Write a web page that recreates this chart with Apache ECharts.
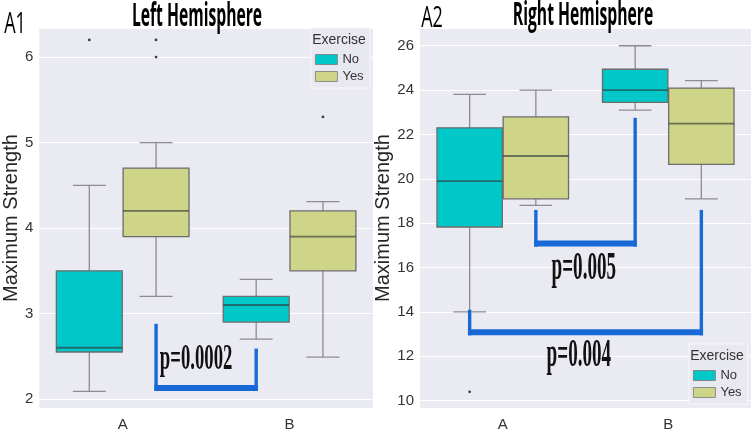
<!DOCTYPE html>
<html>
<head>
<meta charset="utf-8">
<script src="https://cdn.jsdelivr.net/npm/echarts@6/dist/echarts.min.js"></script>
<style>
html, body { margin: 0; padding: 0; background: #fff; }
#chart { width: 754px; height: 432px; }
</style>
</head>
<body>
<div id="chart"></div>
<script>
const categories = ['A', 'B'];
const hues = ['No', 'Yes'];

// [lower whisker, Q1, median, Q3, upper whisker] per category
const leftNo = [[2.09, 2.55, 2.60, 3.50, 4.50], [2.70, 2.90, 3.10, 3.20, 3.40]];
const leftYes = [[3.20, 3.90, 4.20, 4.70, 5.00], [2.49, 3.50, 3.90, 4.20, 4.31]];
const rightNo = [[14.0, 17.83, 19.90, 22.30, 23.81], [23.10, 23.45, 24.00, 24.94, 26.00]];
const rightYes = [[18.8, 19.10, 21.03, 22.79, 24.00], [19.10, 20.65, 22.49, 24.09, 24.43]];

// outliers: [category index, value]
const leftNoOut = [[0, 6.2]];
const leftYesOut = [[0, 6.2], [0, 6.0], [1, 5.3]];
const rightNoOut = [[0, 10.4]];
const rightYesOut = [];

// brackets: [cat1, hue1, cat2, hue2, left top, bottom, right top]
const leftBrackets = [[0, 1, 1, 0, 2.88, 2.13, 2.59]];
const rightBrackets = [[0, 1, 1, 0, 18.6, 17.08, 22.75], [0, 0, 1, 1, 14.1, 13.08, 18.6]];

// p-value labels: [position from A in categories, value, text]
const leftP = [[0.44, 2.46, 'p=0.0002']];
const rightP = [[0.49, 15.95, 'p=0.005'], [0.46, 12.0, 'p=0.004']];

const COLORS = { No: '#00c8c8', Yes: '#ced488' };
const SANS = '"Liberation Sans", Arial, sans-serif';
const SERIF = '"Liberation Serif", "Times New Roman", serif';
const BLUE = '#1769d6';

function hueOffset(h) { return h ? 0.2 : -0.2; }

function boxRender(hue) {
  return function (params, api) {
    const cat = api.value(0);
    const band = api.size([1, 0])[0];
    const cx = api.coord([cat, 0])[0] + hueOffset(hue) * band;
    const w = band * 0.395;
    const cap = w / 4;
    const y = (i) => api.coord([cat, api.value(i)])[1];
    const lo = y(1), q1 = y(2), md = y(3), q3 = y(4), hi = y(5);
    const ws = { stroke: '#8c8c8c', lineWidth: 1.3 };
    return {
      type: 'group',
      children: [
        { type: 'line', shape: { x1: cx, y1: q3, x2: cx, y2: hi }, style: ws },
        { type: 'line', shape: { x1: cx, y1: q1, x2: cx, y2: lo }, style: ws },
        { type: 'line', shape: { x1: cx - cap, y1: hi, x2: cx + cap, y2: hi }, style: ws },
        { type: 'line', shape: { x1: cx - cap, y1: lo, x2: cx + cap, y2: lo }, style: ws },
        { type: 'rect', shape: { x: cx - w / 2, y: q3, width: w, height: q1 - q3 },
          style: { fill: COLORS[hues[hue]], stroke: '#6c6c6c', lineWidth: 1.3 } },
        { type: 'line', shape: { x1: cx - w / 2, y1: md, x2: cx + w / 2, y2: md },
          style: { stroke: 'rgba(50,60,60,0.65)', lineWidth: 1.8 } }
      ]
    };
  };
}

function outlierRender(hue) {
  return function (params, api) {
    const cat = api.value(0);
    const band = api.size([1, 0])[0];
    const p = api.coord([cat, api.value(1)]);
    return { type: 'circle', shape: { cx: p[0] + hueOffset(hue) * band, cy: p[1], r: 1.4 },
      style: { fill: '#3c3c4c' } };
  };
}

function bracketRender(list) {
  return function (params, api) {
    const b = list[params.dataIndex];
    const band = api.size([1, 0])[0];
    const x1 = api.coord([b[0], 0])[0] + hueOffset(b[1]) * band;
    const x2 = api.coord([b[2], 0])[0] + hueOffset(b[3]) * band;
    const yl = api.coord([0, b[4]])[1];
    const yb = api.coord([0, b[5]])[1];
    const yr = api.coord([0, b[6]])[1];
    const v = { stroke: BLUE, lineWidth: 3.4 };
    return {
      type: 'group',
      children: [
        { type: 'line', shape: { x1: x1, y1: yl, x2: x1, y2: yb + 3 }, style: v },
        { type: 'line', shape: { x1: x2, y1: yr, x2: x2, y2: yb + 3 }, style: v },
        { type: 'line', shape: { x1: x1 - 1.7, y1: yb, x2: x2 + 1.7, y2: yb }, style: { stroke: BLUE, lineWidth: 6 } }
      ]
    };
  };
}

function pRender(list, size, sx) {
  return function (params, api) {
    const t = list[params.dataIndex];
    const band = api.size([1, 0])[0];
    const p = api.coord([0, t[1]]);
    return {
      type: 'text', x: p[0] + t[0] * band, y: p[1], scaleX: sx,
      style: { text: t[2], font: 'bold ' + size + 'px ' + SERIF, fill: '#111',
        align: 'center', verticalAlign: 'middle' }
    };
  };
}

function xAxis(grid) {
  return {
    gridIndex: grid, type: 'category', data: categories,
    axisLine: { show: false }, axisTick: { show: false }, splitLine: { show: false },
    axisLabel: { fontSize: 15, color: '#333', margin: 9, fontFamily: SANS }
  };
}

function yAxis(grid, min, max, split, gap, margin) {
  return {
    gridIndex: grid, type: 'value', min: min, max: max, splitNumber: split,
    axisLine: { show: false }, axisTick: { show: false },
    axisLabel: { fontSize: 15, color: '#333', margin: margin, fontFamily: SANS,
      showMinLabel: false, showMaxLabel: false },
    splitLine: { lineStyle: { color: '#ffffff', width: 1.2 } },
    name: 'Maximum Strength', nameLocation: 'middle', nameGap: gap,
    nameTextStyle: { fontSize: 20, color: '#262626', fontFamily: SANS }
  };
}

function panelSeries(idx, no, yes, noOut, yesOut, brackets, pList, pSize, pScale) {
  const ax = { xAxisIndex: idx, yAxisIndex: idx };
  return [
    Object.assign({ type: 'custom', name: 'No', renderItem: boxRender(0),
      itemStyle: { color: COLORS.No }, encode: { x: 0, y: [1, 2, 3, 4, 5] },
      data: no.map((d, i) => [i].concat(d)) }, ax),
    Object.assign({ type: 'custom', name: 'Yes', renderItem: boxRender(1),
      itemStyle: { color: COLORS.Yes }, encode: { x: 0, y: [1, 2, 3, 4, 5] },
      data: yes.map((d, i) => [i].concat(d)) }, ax),
    Object.assign({ type: 'custom', name: 'out-no', renderItem: outlierRender(0),
      encode: { x: 0, y: 1 }, data: noOut }, ax),
    Object.assign({ type: 'custom', name: 'out-yes', renderItem: outlierRender(1),
      encode: { x: 0, y: 1 }, data: yesOut }, ax),
    Object.assign({ type: 'custom', name: 'brackets', renderItem: bracketRender(brackets),
      encode: { x: 0, y: 1 }, data: brackets.map((b) => [b[0], b[5]]), z: 5 }, ax),
    Object.assign({ type: 'custom', name: 'pvalues', renderItem: pRender(pList, pSize, pScale),
      encode: { x: 0, y: 1 }, data: pList.map((t) => [0, t[1]]), z: 6 }, ax)
  ];
}

function legend(left, top) {
  return {
    left: left, top: top, orient: 'vertical', data: hues, icon: 'rect',
    itemWidth: 22, itemHeight: 10, itemGap: 4, padding: [25, 6, 5, 4],
    backgroundColor: '#e8e8f0', borderColor: '#f6f6f9', borderWidth: 1,
    itemStyle: { borderColor: '#7a7a7a', borderWidth: 0.8 },
    textStyle: { fontSize: 13, color: '#333', fontFamily: SANS }
  };
}

function label(text, x, y, size, sx, weight) {
  return {
    type: 'text', x: x, y: y, scaleX: sx, z: 10,
    style: { text: text, font: (weight || 'normal') + ' ' + size + 'px "Open Sans", ' + SANS,
      fill: '#000', align: 'center', verticalAlign: 'middle' }
  };
}

const chart = echarts.init(document.getElementById('chart'));
chart.setOption({
  animation: false,
  grid: [
    { left: 35, right: 381, top: 28, bottom: 23, show: true, backgroundColor: '#eaeaf2', borderWidth: 0 },
    { left: 420, right: 3, top: 28, bottom: 22, show: true, backgroundColor: '#eaeaf2', borderWidth: 0 }
  ],
  xAxis: [xAxis(0), xAxis(1)],
  yAxis: [yAxis(0, 1.895, 6.34, 5, 15, 6), yAxis(1, 9.67, 26.8, 8, 20, 6)],
  legend: [legend(311, 28), legend(689, 344)],
  graphic: [
    label('A1', 15, 24, 30, 0.6),
    label('Left Hemisphere', 197, 17, 32, 0.49, 'bold'),
    label('A2', 432, 18, 30, 0.6),
    label('Right Hemisphere', 583, 16, 32, 0.49, 'bold'),
    { type: 'text', x: 339, y: 40, z: 10,
      style: { text: 'Exercise', font: '14px ' + SANS, fill: '#333', align: 'center', verticalAlign: 'middle' } },
    { type: 'text', x: 717, y: 356, z: 10,
      style: { text: 'Exercise', font: '14px ' + SANS, fill: '#333', align: 'center', verticalAlign: 'middle' } }
  ],
  series: panelSeries(0, leftNo, leftYes, leftNoOut, leftYesOut, leftBrackets, leftP, 36, 0.52)
    .concat(panelSeries(1, rightNo, rightYes, rightNoOut, rightYesOut, rightBrackets, rightP, 39, 0.49))
});
</script>
</body>
</html>
